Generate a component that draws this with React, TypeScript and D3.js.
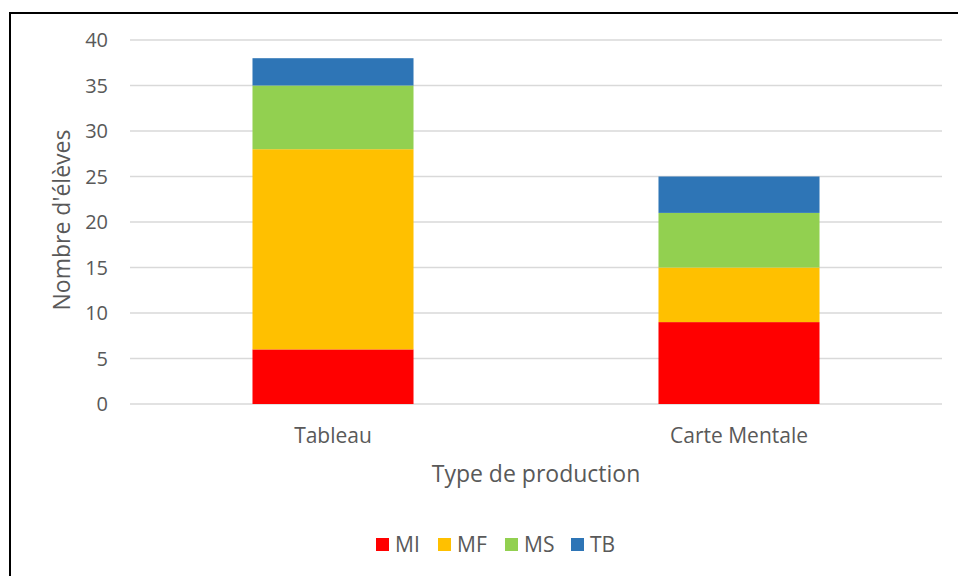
import React from "react";
import * as d3 from "d3";

// Categories and series (stacked counts)
const categories = ["Tableau", "Carte Mentale"];
const seriesNames = ["MI", "MF", "MS", "TB"];
const seriesColors = ["#FF0000", "#FFC000", "#92D050", "#2E75B6"];
const MI = [6, 9];
const MF = [22, 6];
const MS = [7, 6];
const TB = [3, 4];
const yTicks = [0, 5, 10, 15, 20, 25, 30, 35, 40];

const width = 958;
const height = 576;
const margin = { top: 40, right: 16, bottom: 172, left: 130 };
const font = "'Open Sans', sans-serif";
const textColor = "#595959";

const App = () => {
  const rows = categories.map((c, i) => ({
    category: c,
    MI: MI[i],
    MF: MF[i],
    MS: MS[i],
    TB: TB[i],
  }));
  const stacked = d3.stack().keys(seriesNames)(rows as any);

  const xScale = d3
    .scaleBand()
    .domain(categories)
    .range([margin.left, width - margin.right])
    .paddingInner(0.6034)
    .paddingOuter(0.3017);
  const yScale = d3
    .scaleLinear()
    .domain([0, 40])
    .range([height - margin.bottom, margin.top]);

  const plotMidX = (margin.left + width - margin.right) / 2;
  const plotMidY = (margin.top + height - margin.bottom) / 2;

  // legend layout
  const legendX = [376, 438, 505, 571];

  return (
    <svg
      width={width}
      height={height}
      style={{ position: "absolute", left: 0, top: 0, background: "#fff" }}
    >
      <rect x={10} y={13} width={1000} height={700} fill="#fff" stroke="#000" strokeWidth={2} />

      {/* gridlines */}
      {yTicks.map((t) => (
        <line
          key={t}
          x1={margin.left}
          x2={width - margin.right}
          y1={yScale(t)}
          y2={yScale(t)}
          stroke="#D9D9D9"
          strokeWidth={1.3}
        />
      ))}

      {/* y tick labels */}
      {yTicks.map((t) => (
        <text
          key={t}
          x={108}
          y={yScale(t)}
          dy="0.35em"
          textAnchor="end"
          fontFamily={font}
          fontSize={20}
          fill={textColor}
        >
          {t}
        </text>
      ))}

      {/* bars */}
      {stacked.map((s, si) =>
        s.map((d, i) => (
          <rect
            key={`${si}-${i}`}
            x={xScale(categories[i])}
            y={yScale(d[1])}
            width={xScale.bandwidth()}
            height={yScale(d[0]) - yScale(d[1])}
            fill={seriesColors[si]}
          />
        ))
      )}

      {/* category labels */}
      {categories.map((c) => (
        <text
          key={c}
          x={(xScale(c) as number) + xScale.bandwidth() / 2}
          y={443}
          textAnchor="middle"
          fontFamily={font}
          fontSize={21}
          fill={textColor}
        >
          {c}
        </text>
      ))}

      {/* axis titles */}
      <text
        x={plotMidX}
        y={482}
        textAnchor="middle"
        fontFamily={font}
        fontSize={23}
        fill={textColor}
      >
        Type de production
      </text>
      <text
        transform={`translate(70,${plotMidY - 2}) rotate(-90)`}
        textAnchor="middle"
        fontFamily={font}
        fontSize={23}
        fill={textColor}
      >
        Nombre d'élèves
      </text>

      {/* legend */}
      {seriesNames.map((n, i) => (
        <g key={n} transform={`translate(${legendX[i]},545)`}>
          <rect x={0} y={-7} width={13} height={13} fill={seriesColors[i]} />
          <text
            x={19}
            y={0}
            dy="0.35em"
            fontFamily={font}
            fontSize={21}
            fill={textColor}
          >
            {n}
          </text>
        </g>
      ))}
    </svg>
  );
};

export default App;
